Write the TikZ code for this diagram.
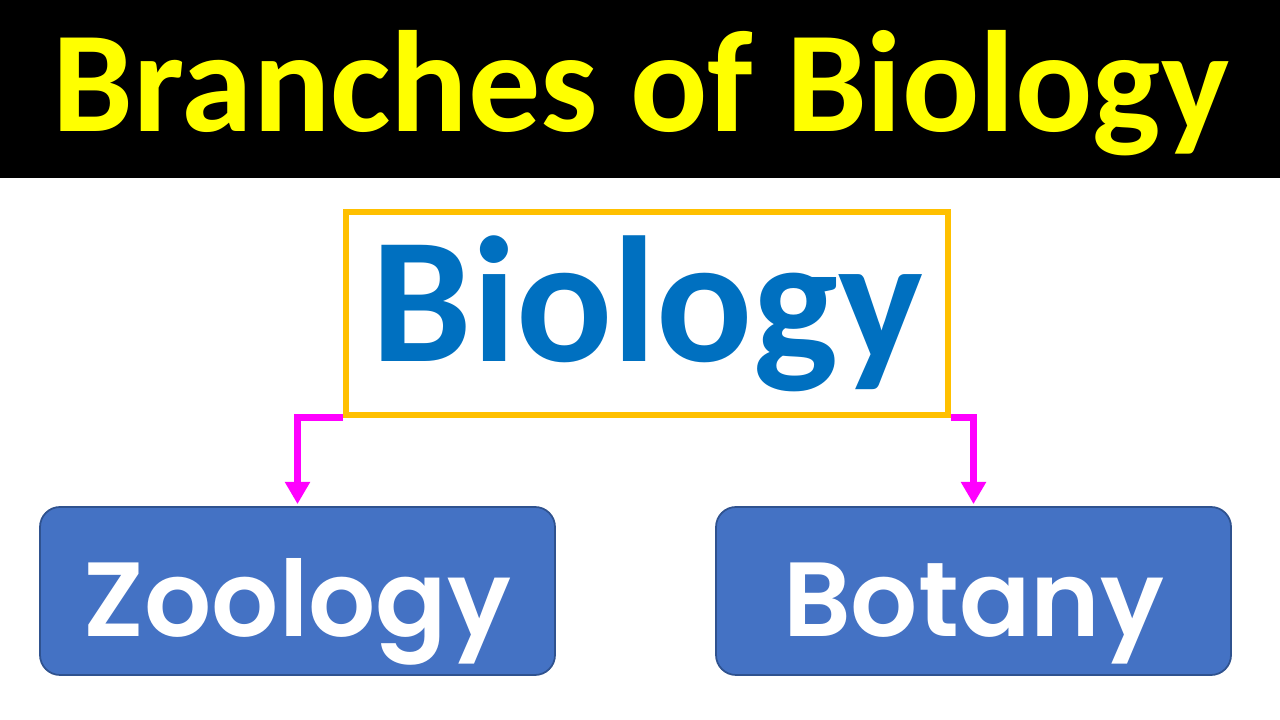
\documentclass[tikz,border=0pt]{standalone}
\usepackage{fontspec}
\setmainfont{Carlito}
\newfontfamily\roundfont{Poppins SemiBold}
\usepackage{xcolor}
\usetikzlibrary{arrows.meta, positioning}
\definecolor{titleyellow}{RGB}{255,255,0}
\definecolor{bioblue}{RGB}{0,112,192}
\definecolor{boxorange}{RGB}{255,192,0}
\definecolor{branchfill}{RGB}{68,114,196}
\definecolor{branchedge}{RGB}{47,82,143}
\definecolor{linkpink}{RGB}{255,0,255}
\tikzset{
mainBox/.style={draw=boxorange, line width=1.7pt, minimum width=6.02cm,
    minimum height=2.03cm, inner sep=0pt, text=bioblue,
    font=\fontsize{51}{51}\selectfont\bfseries},
branchBox/.style={draw=branchedge, fill=branchfill, rounded corners=0.2cm,
    line width=0.5pt, minimum width=5.15cm, minimum height=1.68cm,
    inner sep=0pt, text height=1.2cm, text depth=0.28cm, text=white,
    font=\roundfont\fontsize{30}{30}\selectfont},
linkMe/.style={draw=linkpink, line width=2pt,
    -{Triangle[width=6.8pt, length=6.3pt]}}
}

\begin{document}
\begin{tikzpicture}
    \useasboundingbox (0,0) rectangle (12.8,7.2);
    \fill[white] (0,0) rectangle (12.8,7.2);
    \fill[black] (0,5.42) rectangle (12.8,7.2);

    \node[anchor=base, text=titleyellow, font=\fontsize{41}{41}\selectfont\bfseries]
        (title) at (6.41,5.88) {Branches of Biology};

    \node[mainBox] (bio) at (6.47,4.065) {Biology};

    \node[branchBox] (zoo) at (2.975,1.29) {Zoology};
    \node[branchBox] (bot) at (9.735,1.29) {Botany};

    \draw[linkMe] (bio.south west) -| ([yshift=0.02cm]zoo.north);
    \draw[linkMe] (bio.south east) -| ([yshift=0.02cm]bot.north);
\end{tikzpicture}
\end{document}
